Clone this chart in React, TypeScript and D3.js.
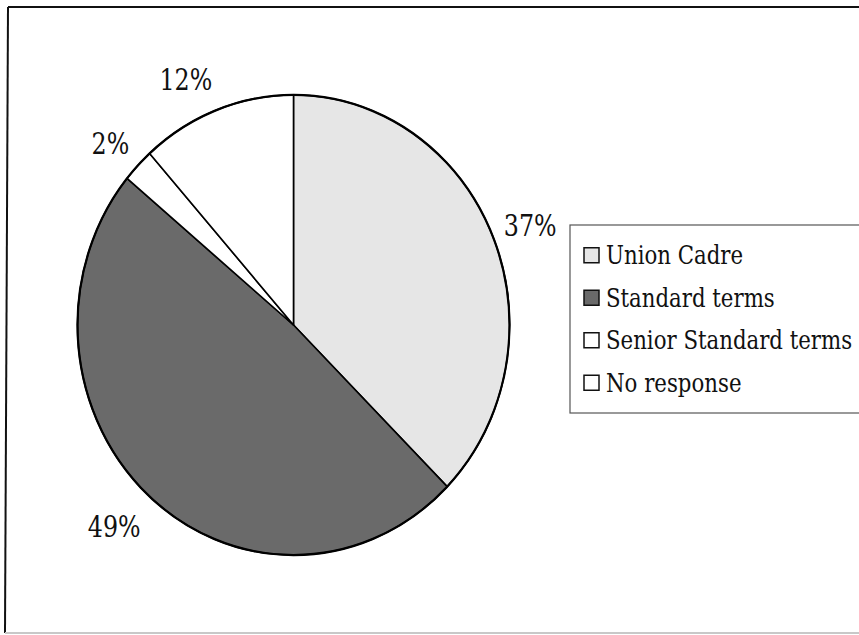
import React from "react";
import * as d3 from "d3";

const categories = ["Union Cadre", "Standard terms", "Senior Standard terms", "No response"];
const values = [37.4, 48.6, 2.4, 11.6];
const labels = ["37%", "49%", "2%", "12%"];
const fills = ["#e6e6e6", "#6a6a6a", "#ffffff", "#ffffff"];

const W = 859;
const H = 635;
const cx = 293.5;
const cy = 325;
const R = 216;
const YS = 1.065;
const FONT = "'DejaVu Serif', serif";

export default function App() {
  const pie = d3.pie<number>().sort(null).value((d) => d).startAngle(0).endAngle(2 * Math.PI);
  const arcs = pie(values);
  const arc = d3.arc<d3.PieArcDatum<number>>().innerRadius(0).outerRadius(R);
  const gap = 12;

  const legendY = d3.scaleBand<string>().domain(categories).range([234, 404]);

  return (
    <svg
      width={W}
      height={H}
      style={{ position: "absolute", left: 0, top: 0, background: "#fff" }}
    >
      <line x1={8} y1={7} x2={W + 5} y2={7} stroke="#111" strokeWidth={2} />
      <line x1={8} y1={7} x2={5} y2={633} stroke="#111" strokeWidth={2} />
      <line x1={5} y1={633} x2={W} y2={633} stroke="#c8c8c8" strokeWidth={2} />

      <g transform={`translate(${cx},${cy}) scale(1,${YS})`}>
        {arcs.map((a, i) => (
          <path
            key={i}
            d={arc(a) || ""}
            fill={fills[i]}
            stroke="#000"
            strokeWidth={1.6}
            strokeLinejoin="round"
            vectorEffect="non-scaling-stroke"
          />
        ))}
        <circle r={R} fill="none" stroke="#000" strokeWidth={2.2} vectorEffect="non-scaling-stroke" />
      </g>

      {arcs.map((a, i) => {
        const mid = (a.startAngle + a.endAngle) / 2;
        const s = Math.sin(mid);
        const c = Math.cos(mid);
        const px = cx + (R + gap) * s;
        const py = cy + 4 - (R + gap) * YS * c - 24 * c;
        return (
          <text
            key={i}
            transform={`translate(${px},${py}) scale(0.88,1)`}
            textAnchor={s < 0 ? "end" : "start"}
            dominantBaseline="central"
            fontFamily={FONT}
            fontStretch="condensed"
            fontSize={30}
            fill="#111"
          >
            {labels[i]}
          </text>
        );
      })}

      <rect x={570} y={225} width={320} height={188} fill="#fff" stroke="#555" strokeWidth={1.2} />
      {categories.map((c, i) => {
        const yc = (legendY(c) || 0) + legendY.bandwidth() / 2;
        return (
          <g key={c}>
            <rect
              x={584}
              y={yc - 7.5}
              width={15}
              height={15}
              fill={fills[i]}
              stroke="#111"
              strokeWidth={1.5}
            />
            <text
              transform={`translate(606,${yc}) scale(0.91,1)`}
              dominantBaseline="central"
              fontFamily={FONT}
              fontStretch="condensed"
              fontSize={26}
              fill="#111"
            >
              {c}
            </text>
          </g>
        );
      })}
    </svg>
  );
}
